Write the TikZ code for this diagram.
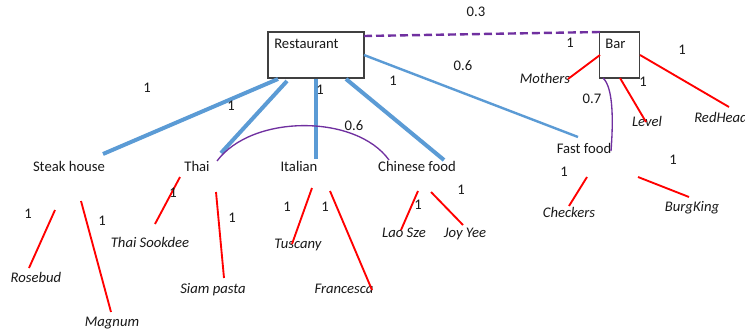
\documentclass[tikz,border=0pt]{standalone}
\usepackage{fontspec}
\setmainfont{Carlito}
\begin{document}
\begin{tikzpicture}[x=0.75pt,y=-0.75pt,
  font=\fontsize{11}{13}\selectfont,
  box/.style={draw=black!75,line width=0.9pt,fill=white,inner sep=0pt},
  txt/.style={inner sep=0pt,text=black!90},
  leaf/.style={inner sep=0pt,font=\fontsize{11}{13}\selectfont\itshape,text=black!90},
  wt/.style={inner sep=0pt,text=black!90},
  bluethick/.style={draw=blueL,line width=3pt},
  bluethin/.style={draw=blueL,line width=1.8pt},
  redl/.style={draw=red,line width=1.4pt},
  purp/.style={draw=purpL,line width=1pt},
  purpdash/.style={draw=purpL,line width=1.8pt,dash pattern=on 6pt off 3pt}]
\definecolor{blueL}{RGB}{91,155,213}
\definecolor{purpL}{RGB}{112,48,160}
\useasboundingbox[fill=white] (0,0) rectangle (745,335);

% main boxes
\node[box,minimum width=72pt,minimum height=34.5pt] (rest) at (316,55) {};
\node[txt,anchor=west] (restT) at (274,44) {Restaurant};
\node[box,minimum width=30pt,minimum height=34.5pt] (bar) at (619.5,55) {};
\node[txt,anchor=west] (barT) at (605,44) {Bar};

% categories
\node[txt] (steak) at (69,166) {Steak house};
\node[txt] (thai) at (197,166) {Thai};
\node[txt] (ital) at (299,166) {Italian};
\node[txt] (chin) at (417,166) {Chinese food};
\node[txt] (fast) at (584,148) {Fast food};

% bar leaves
\node[leaf] (moth) at (545,78) {Mothers};
\node[leaf] (level) at (647,121) {Level};
\node[leaf,anchor=west] (redh) at (694,117) {RedHead};

% leaves
\node[leaf] (rose) at (36,277) {Rosebud};
\node[leaf] (magn) at (112,323) {Magnum};
\node[leaf] (sook) at (150,242) {Thai Sookdee};
\node[leaf] (siam) at (213,290) {Siam pasta};
\node[leaf] (tusc) at (298,245) {Tuscany};
\node[leaf] (fran) at (344,289) {Francesca};
\node[leaf] (lao) at (404,233) {Lao Sze};
\node[leaf] (joy) at (465,234) {Joy Yee};
\node[leaf] (check) at (569,212) {Checkers};
\node[leaf] (burg) at (692,208) {BurgKing};

% connector end points
\coordinate (rA) at (278,79);
\coordinate (rB) at (287,81);
\coordinate (rC) at (316,79);
\coordinate (rD) at (346,79);
\coordinate (rE) at (364,55);
\coordinate (sA) at (103,154);
\coordinate (tA) at (221,153);
\coordinate (iA) at (316,159);
\coordinate (cA) at (444,160);
\coordinate (fA) at (578,137);

% blue edges
\draw[bluethick] (rA) -- (sA);
\draw[bluethick] (rB) -- (tA);
\draw[bluethick] (rC) -- (iA);
\draw[bluethick] (rD) -- (cA);
\draw[bluethin] (rE) -- (fA);

% dashed restaurant-bar
\coordinate (rF) at (364,36);
\coordinate (bA) at (600,32);
\draw[purpdash] (rF) -- (bA);

% purple arcs
\coordinate (tB) at (217,161);
\coordinate (cB) at (389,160);
\draw[purp] (tB) .. controls (252,114) and (356,114) .. (cB);
\coordinate (bB) at (603,78);
\coordinate (fB) at (611,151);
\draw[purp] (bB) .. controls (614,88) and (613,125) .. (fB);

% red edges from bar
\coordinate (b1) at (600,55); \coordinate (m1) at (568,79);
\coordinate (b2) at (620,78); \coordinate (l1) at (646,122);
\coordinate (b3) at (640,55); \coordinate (h1) at (729,107);
\draw[redl] (b1) -- (m1);
\draw[redl] (b2) -- (l1);
\draw[redl] (b3) -- (h1);

% red edges to leaves
\coordinate (p1) at (55,210); \coordinate (q1) at (29,268);
\coordinate (p2) at (81,201); \coordinate (q2) at (111,312);
\coordinate (p3) at (180,177); \coordinate (q3) at (155,224);
\coordinate (p4) at (216,192); \coordinate (q4) at (224,278);
\coordinate (p5) at (312,188); \coordinate (q5) at (292,244);
\coordinate (p6) at (330,191); \coordinate (q6) at (372,290);
\coordinate (p7) at (418,191); \coordinate (q7) at (401,230);
\coordinate (p8) at (431,192); \coordinate (q8) at (463,225);
\coordinate (p9) at (587,177); \coordinate (q9) at (569,206);
\coordinate (p10) at (638,177); \coordinate (q10) at (689,197);
\foreach \i in {1,...,10} {\draw[redl] (p\i) -- (q\i);}

% weights
\node[wt] (w1) at (476,12) {0.3};
\node[wt] (w2) at (570,43) {1};
\node[wt] (w3) at (147,88) {1};
\node[wt] (w4) at (231,106) {1};
\node[wt] (w5) at (320,90) {1};
\node[wt] (w6) at (393,81) {1};
\node[wt] (w7) at (463,66) {0.6};
\node[wt] (w8) at (354,126) {0.6};
\node[wt] (w9) at (592,99) {0.7};
\node[wt] (w10) at (643,82) {1};
\node[wt] (w11) at (682,50) {1};
\node[wt] (w12) at (28,214) {1};
\node[wt] (w13) at (102,221) {1};
\node[wt] (w14) at (173,193) {1};
\node[wt] (w15) at (232,218) {1};
\node[wt] (w16) at (287,207) {1};
\node[wt] (w17) at (325,207) {1};
\node[wt] (w18) at (418,205) {1};
\node[wt] (w19) at (461,190) {1};
\node[wt] (w20) at (564,172) {1};
\node[wt] (w21) at (673,160) {1};
\end{tikzpicture}
\end{document}
